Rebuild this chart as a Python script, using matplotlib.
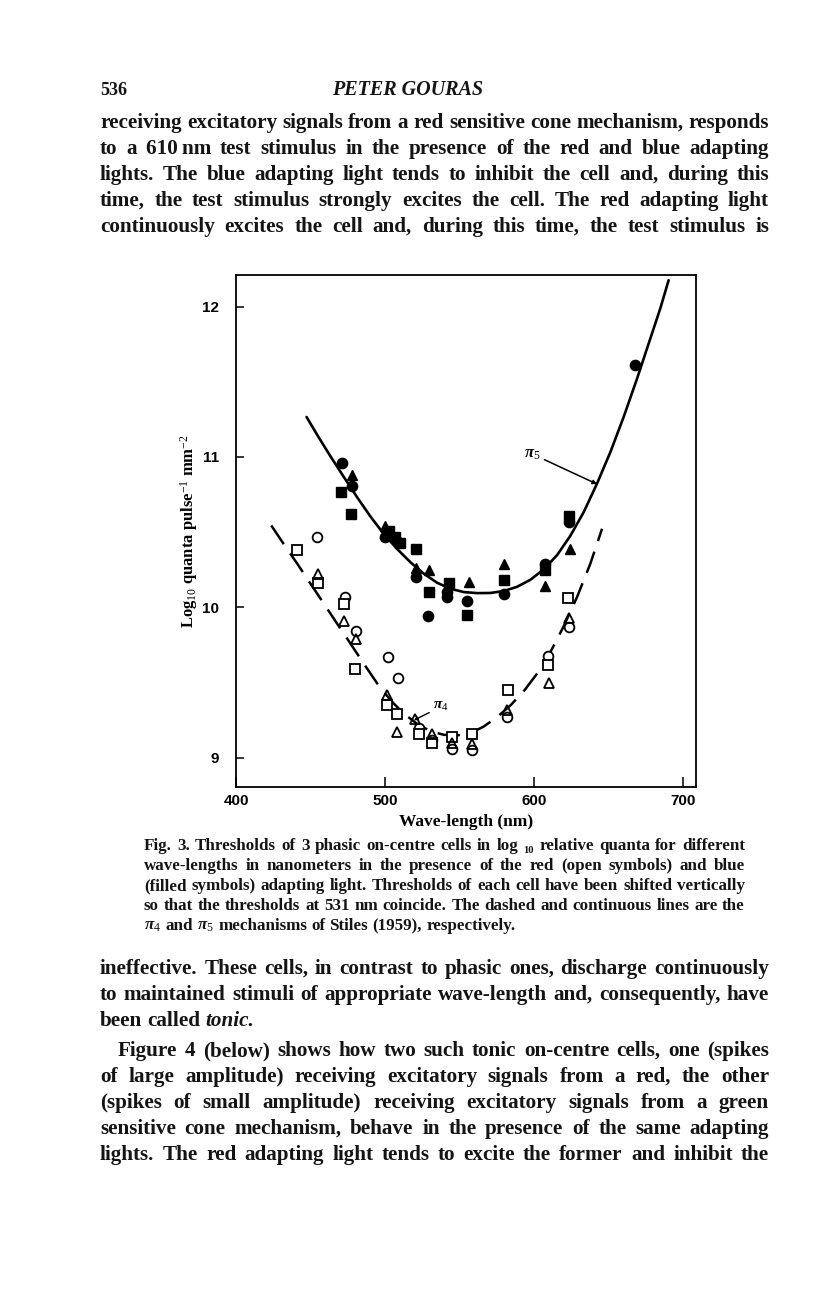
import matplotlib
matplotlib.use('Agg')
import matplotlib.pyplot as plt
from matplotlib.transforms import IdentityTransform

W, H = 816, 1296
SERIF = 'Liberation Serif'
plt.rcParams['font.family'] = [SERIF, 'DejaVu Serif']
plt.rcParams['mathtext.fontset'] = 'custom'
plt.rcParams['mathtext.rm'] = SERIF
plt.rcParams['mathtext.it'] = SERIF + ':italic:bold'
plt.rcParams['mathtext.bf'] = SERIF + ':bold'

# ---------------- data ----------------
# blue adapting light (filled symbols)
blue_circle_wl = [471.4, 478.1, 499.8, 507.2, 520.6, 529.1, 541.9, 541.9, 555.3, 580.3, 607.8, 623.9, 667.8]
blue_circle_val = [10.96, 10.81, 10.47, 10.45, 10.20, 9.94, 10.10, 10.07, 10.04, 10.09, 10.29, 10.57, 11.61]
blue_square_wl = [470.2, 477.4, 502.7, 506.5, 510.0, 521.1, 529.5, 543.0, 555.3, 580.3, 607.8, 623.5]
blue_square_val = [10.77, 10.62, 10.51, 10.47, 10.43, 10.39, 10.10, 10.16, 9.95, 10.18, 10.25, 10.61]
blue_triangle_wl = [478.0, 499.8, 521.0, 529.5, 556.4, 579.9, 607.8, 624.6]
blue_triangle_val = [10.88, 10.54, 10.26, 10.25, 10.17, 10.29, 10.14, 10.39]

# red adapting light (open symbols)
red_circle_wl = [454.1, 473.2, 480.3, 502.0, 508.7, 522.8, 531.8, 545.2, 558.2, 582.1, 609.7, 624.0]
red_circle_val = [10.47, 10.07, 9.84, 9.67, 9.53, 9.20, 9.12, 9.06, 9.05, 9.27, 9.68, 9.87]
red_square_wl = [441.2, 455.2, 472.5, 479.7, 501.1, 507.9, 523.0, 531.8, 545.2, 558.2, 582.5, 609.7, 622.8]
red_square_val = [10.38, 10.16, 10.02, 9.59, 9.35, 9.29, 9.16, 9.10, 9.14, 9.16, 9.45, 9.62, 10.06]
red_triangle_wl = [455.3, 472.5, 480.3, 501.1, 508.3, 520.0, 531.8, 545.2, 558.2, 582.1, 610.0, 624.0]
red_triangle_val = [10.22, 9.91, 9.79, 9.42, 9.17, 9.26, 9.16, 9.10, 9.09, 9.32, 9.50, 9.93]

# Stiles mechanisms (curves)
pi5_wl = [447.4, 454.6, 463.5, 472.5, 481.4, 490.4, 499.3, 508.3, 517.2, 526.2, 535.1, 544.1, 553.0,
          562.0, 570.9, 579.9, 588.8, 597.8, 606.7, 615.7, 624.6, 633.6, 642.5, 651.5, 660.4, 669.4,
          678.3, 685.0, 690.6]
pi5_val = [11.266, 11.146, 11.004, 10.866, 10.732, 10.603, 10.488, 10.388, 10.300, 10.224, 10.164,
           10.124, 10.102, 10.095, 10.096, 10.109, 10.137, 10.184, 10.253, 10.348, 10.476, 10.634,
           10.823, 11.033, 11.266, 11.521, 11.787, 11.987, 12.175]
pi4_wl = [423.7, 432.2, 441.2, 450.1, 459.1, 468.0, 477.0, 485.9, 494.9, 503.8, 512.8, 521.7, 530.6,
          539.6, 548.5, 557.5, 566.4, 575.4, 584.3, 593.3, 602.2, 611.2, 620.1, 629.1, 638.0, 645.9]
pi4_val = [10.545, 10.419, 10.290, 10.157, 10.024, 9.891, 9.758, 9.625, 9.494, 9.383, 9.293, 9.226,
           9.177, 9.153, 9.149, 9.164, 9.208, 9.271, 9.348, 9.443, 9.559, 9.703, 9.874, 10.069,
           10.290, 10.523]

x_ticks = [400, 500, 600, 700]
y_ticks = [9, 10, 11, 12]

body_top = [
    "receiving excitatory signals from a red sensitive cone mechanism, responds",
    "to a 610\u2009nm test stimulus in the presence of the red and blue adapting",
    "lights. The blue adapting light tends to inhibit the cell and, during this",
    "time, the test stimulus strongly excites the cell. The red adapting light",
    "continuously excites the cell and, during this time, the test stimulus is",
]
body_bottom = [
    "ineffective. These cells, in contrast to phasic ones, discharge continuously",
    "to maintained stimuli of appropriate wave-length and, consequently, have",
    "been called",
    "Figure 4 (below) shows how two such tonic on-centre cells, one (spikes",
    "of large amplitude) receiving excitatory signals from a red, the other",
    "(spikes of small amplitude) receiving excitatory signals from a green",
    "sensitive cone mechanism, behave in the presence of the same adapting",
    "lights. The red adapting light tends to excite the former and inhibit the",
]
caption = [
    "Fig. 3. Thresholds of 3 phasic on-centre cells in log _10 relative quanta for different",
    "wave-lengths in nanometers in the presence of the red (open symbols) and blue",
    "(filled symbols) adapting light. Thresholds of each cell have been shifted vertically",
    "so that the thresholds at 531 nm coincide. The dashed and continuous lines are the",
    r"$\pi_4$ and $\pi_5$ mechanisms of Stiles (1959), respectively.",
]

# ---------------- figure ----------------
fig = plt.figure(figsize=(W / 100, H / 100), dpi=100)
fig.patch.set_facecolor('white')
renderer = fig.canvas.get_renderer()
ID = IdentityTransform()
INK = '#141414'
WEIGHT = 'bold'


def place_line(words, x0, x1, y, fs, justify=True, styles=None):
    """Place words on a line (pixel coords, y from top = baseline), justified between x0 and x1."""
    arts = []
    for i, w in enumerate(words):
        st = styles[i] if styles else 'normal'
        size, dy = fs, 0
        if w.startswith('_'):
            w, size, dy = w[1:], fs * 0.62, -3
        t = fig.text(0, H - y + dy, w, fontsize=size, fontweight=WEIGHT, fontstyle=st,
                     transform=ID, va='baseline', ha='left', color=INK)
        arts.append(t)
    widths = [a.get_window_extent(renderer).width for a in arts]
    sp = fig.text(0, 0, 'x x', fontsize=fs, fontweight=WEIGHT, transform=ID)
    sp2 = fig.text(0, 0, 'xx', fontsize=fs, fontweight=WEIGHT, transform=ID)
    space = sp.get_window_extent(renderer).width - sp2.get_window_extent(renderer).width
    sp.remove(); sp2.remove()
    if justify and len(words) > 1:
        gap = (x1 - x0 - sum(widths)) / (len(words) - 1)
    else:
        gap = space
    x = x0
    for a, wdt in zip(arts, widths):
        a.set_x(x)
        x += wdt + gap


def natural_width(lines, fs):
    out = []
    for ln in lines:
        t = fig.text(0, 0, ln, fontsize=fs, fontweight=WEIGHT, transform=ID)
        out.append(t.get_window_extent(renderer).width)
        t.remove()
    return out

# header
fig.text(100, H - 95, "536", fontsize=13, fontweight=WEIGHT, transform=ID, va='baseline',
         ha='left', color=INK)
fig.text(408, H - 95, "PETER GOURAS", fontsize=14.5, fontweight=WEIGHT, fontstyle='italic',
         transform=ID, va='baseline', ha='center', color=INK)

# body text
fs0 = 12.0
nw = natural_width(body_top + body_bottom, fs0)
fs_body = fs0 * min(669 / w for w in nw) * 0.995
top_y = [128, 154, 180, 206, 232]
for i, ln in enumerate(body_top):
    place_line(ln.split(' '), 100, 769, top_y[i], fs_body)

bot_y = [974, 1000, 1026, 1056, 1082, 1108, 1134, 1160]
for i, ln in enumerate(body_bottom):
    words = ln.split(' ')
    if i == 2:
        words = words + ['tonic.']
        styles = ['normal'] * (len(words) - 1) + ['italic']
        place_line(words, 100, 769, bot_y[i], fs_body, justify=False, styles=styles)
    elif i == 3:
        place_line(words, 118, 769, bot_y[i], fs_body)
    else:
        place_line(words, 100, 769, bot_y[i], fs_body)

# caption
fsc0 = 10.0
nwc = natural_width([c.replace('_10', '10') for c in caption[:4]], fsc0)
fs_cap = fsc0 * min(601 / w for w in nwc) * 0.99
cap_y = [850, 870, 890, 910, 930]
for i, ln in enumerate(caption):
    place_line(ln.split(' '), 144, 745, cap_y[i], fs_cap, justify=(i < 4))

# ---------------- axes ----------------
ax_l, ax_r, ax_t, ax_b = 236, 696, 275, 787
ax = fig.add_axes([ax_l / W, 1 - ax_b / H, (ax_r - ax_l) / W, (ax_b - ax_t) / H])
ax.set_xlim(400, 709)
ax.set_ylim(8.806, 12.21)
for s in ax.spines.values():
    s.set_linewidth(1.3)
ax.set_xticks(x_ticks)
ax.set_yticks(y_ticks)
ax.tick_params(axis='x', direction='in', length=7.5, width=1.1, pad=5, labelsize=11)
ax.tick_params(axis='y', direction='in', length=5.5, width=1.1, pad=12, labelsize=11)
for lab in ax.get_xticklabels() + ax.get_yticklabels():
    lab.set_fontfamily('Liberation Sans')
    lab.set_fontweight('bold')

ax.plot(pi5_wl, pi5_val, color='black', lw=1.9, solid_capstyle='round', solid_joinstyle='round')
ax.plot(pi4_wl, pi4_val, color='black', lw=1.8, dashes=(9, 4.5))

ms_f = 7.4
ms_o = 7.0
mew = 1.3
ax.plot(blue_circle_wl, blue_circle_val, 'o', color='black', ms=ms_f, ls='none')
ax.plot(blue_square_wl, blue_square_val, 's', color='black', ms=ms_f * 0.95, ls='none')
ax.plot(blue_triangle_wl, blue_triangle_val, '^', color='black', ms=ms_f * 0.95, ls='none')
ax.plot(red_circle_wl, red_circle_val, 'o', mfc='white', mec='black', mew=mew, ms=ms_o, ls='none')
ax.plot(red_square_wl, red_square_val, 's', mfc='white', mec='black', mew=mew, ms=ms_o * 0.95, ls='none')
ax.plot(red_triangle_wl, red_triangle_val, '^', mfc='none', mec='black', mew=mew, ms=ms_o * 0.95, ls='none')

ax.annotate(r'$\pi_5$', xy=(642.5, 10.82), xytext=(604.5, 11.02), fontsize=12,
            ha='right', va='center',
            arrowprops=dict(arrowstyle='-|>', color='black', lw=1.1, mutation_scale=6,
                            shrinkA=1, shrinkB=0))
ax.annotate(r'$\pi_4$', xy=(519.5, 9.25), xytext=(532.5, 9.34), fontsize=11,
            ha='left', va='center',
            arrowprops=dict(arrowstyle='-|>', color='black', lw=1.0, mutation_scale=5,
                            shrinkA=1, shrinkB=0))

ax.set_xlabel('Wave-length (nm)', fontsize=12.5, fontweight=WEIGHT, labelpad=4)
ax.set_ylabel(r'Log$_{10}$ quanta pulse$^{-1}$ mm$^{-2}$', fontsize=12, fontweight=WEIGHT,
              labelpad=2)

fig.savefig('out.png', dpi=100, facecolor='white')
